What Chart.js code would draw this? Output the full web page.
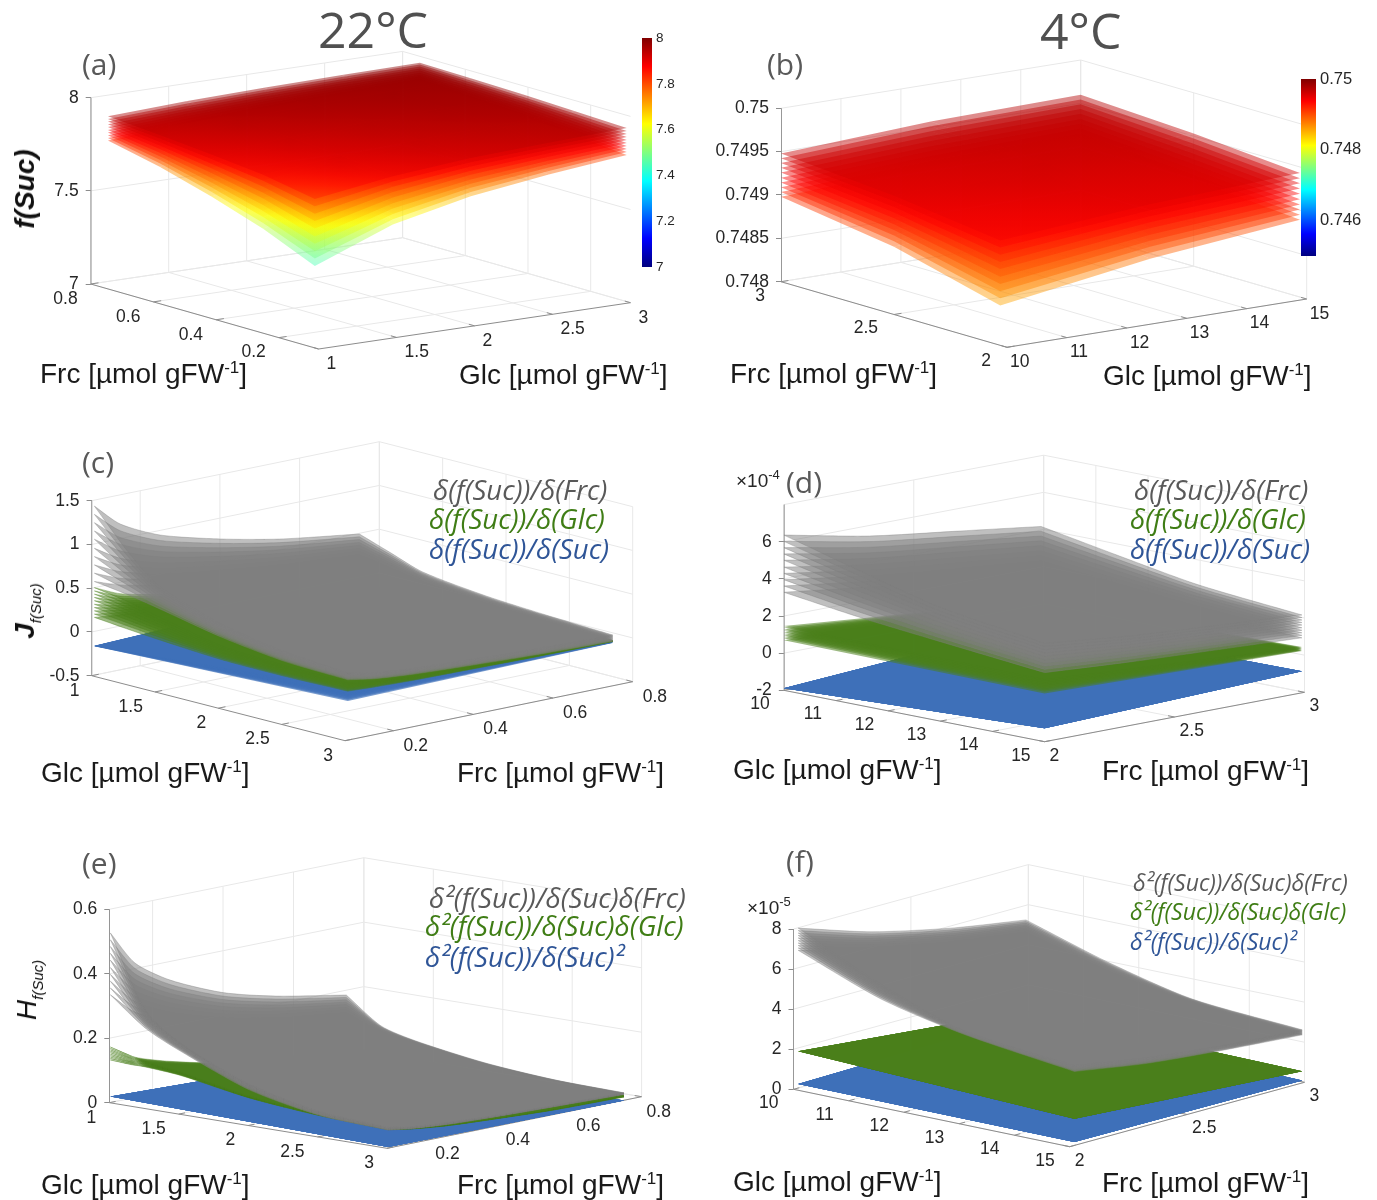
<!DOCTYPE html>
<html>
<head>
<meta charset="utf-8">
<title>f(Suc), Jacobian and Hessian surfaces at 22°C and 4°C</title>
<script src="https://cdn.jsdelivr.net/npm/chart.js@4"></script>
<style>
  body { margin: 0; background: #fff; }
  #page { position: relative; width: 1377px; height: 1200px; overflow: hidden; }
  canvas { position: absolute; }
  .t { position: absolute; white-space: nowrap; line-height: 1; transform: translateY(-50%); }
  .head { font-family: "Open Sans"; color: #505050; }
  .axis { font-family: "Liberation Sans"; font-size: 28px; color: #1a1a1a; }
  .axis sup { font-size: 17px; line-height: 0; }
  .leg { font-family: "Open Sans"; font-style: italic; }
  .ylab { font-family: "Liberation Sans"; font-style: italic; color: #111; transform: translate(-50%,-50%) rotate(-90deg); }
  .ylab sub { font-size: 15px; line-height: 0; font-weight: normal; }
  .exp { font-family: "Liberation Sans"; font-size: 19px; color: #262626; }
  .exp sup { font-size: 13px; line-height: 0; }
</style>
</head>
<body>
<div id="page"></div>
<script>
// sheets of the Suc family: where each one sits between the lowest and highest sheet
const sucLevels = [0, 0.11, 0.22, 0.33, 0.44, 0.56, 0.67, 0.78, 0.89, 1];
const jetColors = [[0, 0, 127], [0, 0, 255], [0, 255, 255], [255, 255, 0], [255, 0, 0], [127, 0, 0]];
const jetStops = [0, 0.125, 0.375, 0.625, 0.875, 1];
// the shaded surfaces in the figure reach the dark reds earlier than the colorbar does
const surfaceStops = [0, 0.125, 0.375, 0.625, 0.83, 0.98];

// (a) 22°C f(Suc)
const aFrc = [0.745, 0.58, 0.415, 0.25, 0.085];
const aGlc = [1, 1.5, 2, 2.5, 3];
const aLow = [
  [7.796, 7.825, 7.845, 7.860, 7.870],
  [7.735, 7.785, 7.815, 7.840, 7.855],
  [7.655, 7.735, 7.780, 7.815, 7.840],
  [7.560, 7.675, 7.740, 7.785, 7.815],
  [7.440, 7.600, 7.690, 7.745, 7.787]];
const aTop = [
  [7.927, 7.945, 7.955, 7.962, 7.966],
  [7.905, 7.930, 7.945, 7.955, 7.960],
  [7.880, 7.910, 7.930, 7.945, 7.953],
  [7.850, 7.890, 7.915, 7.930, 7.943],
  [7.800, 7.860, 7.895, 7.915, 7.932]];

// (b) 4°C f(Suc)
const bFrc = [3, 2.5, 2.03];
const bGlc = [10, 12.5, 15];
const bLow = [
  [0.74898, 0.74906, 0.74910],
  [0.74878, 0.74892, 0.74900],
  [0.74846, 0.74872, 0.74889]];
const bTop = [
  [0.74948, 0.74957, 0.74960],
  [0.74937, 0.74948, 0.74953],
  [0.74921, 0.74935, 0.74943]];

// (c) 22°C Jacobian
const cGlc = [1, 1.25, 1.5, 2, 2.5, 3];
const cFrc = [0.085, 0.15, 0.25, 0.4, 0.55, 0.75];
const cGrayTop = [
  [1.432, 1.166, 0.947, 0.762, 0.621, 0.492],
  [1.03, 0.84, 0.68, 0.55, 0.45, 0.367],
  [0.72, 0.58, 0.475, 0.38, 0.31, 0.243],
  [0.46, 0.37, 0.30, 0.245, 0.20, 0.155],
  [0.33, 0.27, 0.22, 0.175, 0.14, 0.111],
  [0.27, 0.21, 0.17, 0.135, 0.105, 0.08]];
const cGrayLow = [
  [0.57, 0.47, 0.38, 0.31, 0.25, 0.20],
  [0.52, 0.43, 0.34, 0.27, 0.21, 0.16],
  [0.453, 0.37, 0.29, 0.22, 0.16, 0.115],
  [0.307, 0.25, 0.19, 0.14, 0.09, 0.06],
  [0.215, 0.17, 0.13, 0.09, 0.05, 0.03],
  [0.19, 0.14, 0.10, 0.065, 0.035, 0.01]];
const cGreenTop = [
  [0.50, 0.37, 0.27, 0.19, 0.14, 0.10],
  [0.44, 0.33, 0.24, 0.165, 0.12, 0.085],
  [0.36, 0.27, 0.20, 0.135, 0.095, 0.065],
  [0.21, 0.165, 0.12, 0.08, 0.055, 0.04],
  [0.17, 0.125, 0.09, 0.06, 0.035, 0.025],
  [0.16, 0.115, 0.08, 0.05, 0.03, 0.017]];
const cGreenLow = [
  [0.16, 0.13, 0.10, 0.08, 0.06, 0.04],
  [0.125, 0.10, 0.08, 0.06, 0.045, 0.03],
  [0.095, 0.08, 0.06, 0.045, 0.03, 0.02],
  [0.05, 0.045, 0.035, 0.025, 0.015, 0.01],
  [0.045, 0.04, 0.03, 0.02, 0.012, 0.006],
  [0.06, 0.045, 0.03, 0.02, 0.01, 0.005]];
const cBlueGlc = [1, 3];
const cBlueFrc = [0.085, 0.75];
const cBlueTop = [[-0.165, -0.06], [0.085, 0.0]];
const cBlueLow = [[-0.169, -0.068], [-0.054, -0.01]];

// (d) 4°C Jacobian, in units of 1e-4
const dGlc = [10, 11.5, 13, 15];
const dFrc = [2, 2.33, 2.67, 2.99];
const dGrayTop = [
  [6.36, 5.43, 4.79, 4.19],
  [5.20, 4.45, 3.92, 3.43],
  [4.13, 3.53, 3.11, 2.72],
  [3.30, 2.82, 2.49, 2.19]];
const dGrayLow = [
  [3.28, 2.70, 2.25, 1.85],
  [2.72, 2.24, 1.87, 1.53],
  [2.28, 1.88, 1.56, 1.28],
  [1.72, 1.42, 1.18, 0.96]];
const dFlatGlc = [10, 15];
const dFlatFrc = [2, 2.99];
const dGreenTop = [[1.46, 0.2], [1.36, 0.46]];
const dGreenLow = [[0.7, 0.0], [0.6, 0.25]];
const dBlue = [[-1.89, -0.97], [-1.28, -0.84]];

// (e) 22°C Hessian
const eGlc = [1, 1.25, 1.5, 2, 2.5, 3];
const eFrc = [0.08, 0.15, 0.25, 0.4, 0.55, 0.75];
const eGrayTop = [
  [0.526, 0.417, 0.342, 0.270, 0.226, 0.185],
  [0.305, 0.242, 0.198, 0.157, 0.131, 0.107],
  [0.221, 0.175, 0.144, 0.113, 0.095, 0.078],
  [0.128, 0.101, 0.083, 0.066, 0.055, 0.045],
  [0.079, 0.063, 0.052, 0.041, 0.034, 0.028],
  [0.064, 0.051, 0.042, 0.033, 0.028, 0.023]];
const eGrayLow = [
  [0.334, 0.265, 0.217, 0.172, 0.143, 0.118],
  [0.249, 0.197, 0.162, 0.128, 0.107, 0.088],
  [0.196, 0.156, 0.127, 0.101, 0.084, 0.069],
  [0.110, 0.087, 0.071, 0.057, 0.047, 0.039],
  [0.067, 0.053, 0.043, 0.034, 0.029, 0.024],
  [0.056, 0.045, 0.036, 0.029, 0.024, 0.018]];
const eGreenTop = [
  [0.172, 0.125, 0.09, 0.052, 0.035, 0.025],
  [0.145, 0.11, 0.08, 0.048, 0.032, 0.024],
  [0.13, 0.10, 0.072, 0.044, 0.03, 0.022],
  [0.09, 0.07, 0.05, 0.034, 0.024, 0.019],
  [0.072, 0.055, 0.04, 0.028, 0.02, 0.016],
  [0.062, 0.048, 0.035, 0.025, 0.018, 0.015]];
const eGreenLow = [
  [0.132, 0.10, 0.07, 0.042, 0.028, 0.02],
  [0.128, 0.097, 0.068, 0.04, 0.027, 0.019],
  [0.12, 0.09, 0.063, 0.038, 0.025, 0.018],
  [0.085, 0.065, 0.046, 0.03, 0.02, 0.015],
  [0.066, 0.05, 0.036, 0.025, 0.016, 0.012],
  [0.057, 0.044, 0.032, 0.022, 0.014, 0.01]];
const eBlueGlc = [1, 3];
const eBlueFrc = [0.08, 0.75];
const eBlue = [[0.0186, -0.004], [0.003, -0.001]];

// (f) 4°C Hessian, in units of 1e-5
const fGlc = [10, 11.5, 13, 15];
const fFrc = [2.02, 2.33, 2.67, 2.99];
const fGrayTop = [
  [7.98, 6.80, 5.89, 5.27],
  [6.05, 5.17, 4.48, 4.00],
  [4.60, 3.95, 3.42, 3.05],
  [4.00, 3.40, 2.95, 2.65]];
const fGrayLow = [
  [6.87, 5.85, 5.07, 4.55],
  [5.30, 4.50, 3.90, 3.50],
  [4.40, 3.70, 3.20, 2.85],
  [3.69, 3.10, 2.70, 2.40]];
const fFlatGlc = [10, 15];
const fFlatFrc = [2.02, 2.99];
const fGreen = [[1.83, 0.75], [1.33, 0.58]];
const fBlue = [[0.2, 0.4], [0.17, 0.12]];

// axis ticks
const aZTicks = [7, 7.5, 8], aZLabels = ["7", "7.5", "8"];
const aFrcTicks = [0.8, 0.6, 0.4, 0.2], aFrcLabels = ["0.8", "0.6", "0.4", "0.2"];
const aGlcTicks = [1, 1.5, 2, 2.5, 3], aGlcLabels = ["1", "1.5", "2", "2.5", "3"];
const bZTicks = [0.748, 0.7485, 0.749, 0.7495, 0.75], bZLabels = ["0.748", "0.7485", "0.749", "0.7495", "0.75"];
const bFrcTicks = [3, 2.5, 2], bFrcLabels = ["3", "2.5", "2"];
const bGlcTicks = [10, 11, 12, 13, 14, 15], bGlcLabels = ["10", "11", "12", "13", "14", "15"];
const cZTicks = [-0.5, 0, 0.5, 1, 1.5], cZLabels = ["-0.5", "0", "0.5", "1", "1.5"];
const dZTicks = [-2, 0, 2, 4, 6], dZLabels = ["-2", "0", "2", "4", "6"];
const eZTicks = [0, 0.2, 0.4, 0.6], eZLabels = ["0", "0.2", "0.4", "0.6"];
const fZTicks = [0, 2, 4, 6, 8], fZLabels = ["0", "2", "4", "6", "8"];
const lowGlcTicks = [1, 1.5, 2, 2.5, 3], lowGlcLabels = ["1", "1.5", "2", "2.5", "3"];
const lowFrcTicks = [0.2, 0.4, 0.6, 0.8], lowFrcLabels = ["0.2", "0.4", "0.6", "0.8"];
const aBarTicks = [7, 7.2, 7.4, 7.6, 7.8, 8], aBarLabels = ["7", "7.2", "7.4", "7.6", "7.8", "8"];
const bBarTicks = [0.746, 0.748, 0.75], bBarLabels = ["0.746", "0.748", "0.75"];

const GRAY = "127,127,127", GREEN = "74,127,28", BLUE = "62,112,185";

const page = document.getElementById("page");

function jet(frac) {
  const f = Math.min(1, Math.max(0, frac));
  let i = 0;
  while (i < surfaceStops.length - 2 && f > surfaceStops[i + 1]) i++;
  const w = Math.min(1, (f - surfaceStops[i]) / (surfaceStops[i + 1] - surfaceStops[i]));
  return jetColors[i].map((c, k) => Math.round(c + (jetColors[i + 1][k] - c) * w));
}

function addText(html, cls, left, top, style) {
  const el = document.createElement("div");
  el.className = "t " + cls;
  el.innerHTML = html;
  el.style.left = left + "px";
  el.style.top = top + "px";
  Object.assign(el.style, style || {});
  page.appendChild(el);
}

// floor axes run left corner -> front corner (u) and front corner -> right corner (v)
function projector(p) {
  const b = p.box;
  const ppu = (b.Ly - b.topY) / (p.zRange[1] - p.zRange[0]);
  return function (u, v, z) {
    const t = (u - p.uRange[0]) / (p.uRange[1] - p.uRange[0]);
    const s = (v - p.vRange[0]) / (p.vRange[1] - p.vRange[0]);
    return {
      x: t * (b.Fx - b.Lx) + s * (b.Rx - b.Fx),
      y: z - (t * (b.Fy - b.Ly) + s * (b.Ry - b.Fy)) / ppu
    };
  };
}

function lineSet(points, color, width) {
  return { data: points, showLine: true, borderColor: color, borderWidth: width, pointRadius: 0, fill: false };
}

function wallSets(p, P) {
  const [uL, uF] = p.uRange, [vF, vR] = p.vRange, z0 = p.zRange[0], z1 = p.zRange[1];
  const out = [];
  const grid = "#e8e8e8";
  p.zGrid.forEach(z => out.push(lineSet([P(uL, vF, z), P(uL, vR, z), P(uF, vR, z)], grid, 1)));
  p.uTicks.forEach(u => {
    out.push(lineSet([P(u, vF, z0), P(u, vR, z0), P(u, vR, z1)], grid, 1));
  });
  p.vTicks.forEach(v => {
    out.push(lineSet([P(uF, v, z0), P(uL, v, z0), P(uL, v, z1)], grid, 1));
  });
  return out;
}

function axisSets(p, P) {
  const [uL, uF] = p.uRange, [vF, vR] = p.vRange, z0 = p.zRange[0], z1 = p.zRange[1];
  const ink = "#8c8c8c";
  const out = [lineSet([P(uL, vF, z1), P(uL, vF, z0), P(uF, vF, z0), P(uF, vR, z0)], ink, 1)];
  p.uTicks.forEach(u => out.push(lineSet([P(u, vF, z0), P(u, vF + (vR - vF) * 0.025, z0)], ink, 1)));
  p.vTicks.forEach(v => out.push(lineSet([P(uF, v, z0), P(uF + (uL - uF) * 0.025, v, z0)], ink, 1)));
  return out;
}

// one polygon per sheet, uniform colour; corners are pushed twice so the spline stays sharp there
function sheetSets(s, P) {
  const out = [];
  const curved = s.rows.length > 2;
  sucLevels.forEach(level => {
    const val = (i, j) => s.low[i][j] + level * (s.top[i][j] - s.low[i][j]);
    const n = s.rows.length, m = s.cols.length, loop = [];
    const add = (i, j) => loop.push(P(s.rows[i], s.cols[j], val(i, j)));
    for (let j = 0; j < m; j++) add(0, j);
    add(0, m - 1);
    for (let i = 1; i < n; i++) add(i, m - 1);
    add(n - 1, m - 1);
    for (let j = m - 2; j >= 0; j--) add(n - 1, j);
    add(n - 1, 0);
    for (let i = n - 2; i >= 0; i--) add(i, 0);
    out.push({
      data: loop, showLine: true, pointRadius: 0, fill: "shape", tension: curved ? 0.25 : 0,
      borderWidth: curved ? 0.6 : 0, borderColor: "rgba(" + s.rgb + ",0.6)",
      backgroundColor: "rgba(" + s.rgb + "," + s.alpha + ")"
    });
  });
  return out;
}

// linear fit of value against pixel position over a cell, so the shading runs on across cell borders
function cellGradient(c2d, corners, css) {
  const n = corners.length;
  const mx = corners.reduce((a, c) => a + c.px, 0) / n;
  const my = corners.reduce((a, c) => a + c.py, 0) / n;
  const mv = corners.reduce((a, c) => a + c.z, 0) / n;
  let sxx = 0, sxy = 0, syy = 0, sxv = 0, syv = 0;
  corners.forEach(c => {
    const dx = c.px - mx, dy = c.py - my, dv = c.z - mv;
    sxx += dx * dx; sxy += dx * dy; syy += dy * dy; sxv += dx * dv; syv += dy * dv;
  });
  const det = sxx * syy - sxy * sxy;
  const gx = (sxv * syy - syv * sxy) / det, gy = (syv * sxx - sxv * sxy) / det;
  const g2 = gx * gx + gy * gy;
  const vs = corners.map(c => mv + gx * (c.px - mx) + gy * (c.py - my));
  const v0 = Math.min.apply(null, vs), v1 = Math.max.apply(null, vs);
  const at = v => [mx + gx * (v - mv) / g2, my + gy * (v - mv) / g2];
  const a = at(v0), b = at(v1);
  const g = c2d.createLinearGradient(a[0], a[1], b[0], b[1]);
  [0, 0.17, 0.33, 0.5, 0.67, 0.83, 1].forEach(k => g.addColorStop(k, css(v0 + (v1 - v0) * k)));
  return g;
}

// one polygon per grid cell, filled with the colormap across its value range
function cellSets(s, P) {
  const out = [];
  const [cMin, cMax] = s.cRange;
  const css = v => "rgba(" + jet((v - cMin) / (cMax - cMin)).join(",") + "," + s.alpha + ")";
  sucLevels.forEach(level => {
    const val = (i, j) => s.low[i][j] + level * (s.top[i][j] - s.low[i][j]);
    for (let i = 0; i < s.rows.length - 1; i++) {
      for (let j = 0; j < s.cols.length - 1; j++) {
        const corners = [[i, j], [i, j + 1], [i + 1, j + 1], [i + 1, j]].map(c => {
          const z = val(c[0], c[1]);
          return { z: z, pt: P(s.rows[c[0]], s.cols[c[1]], z) };
        });
        out.push({
          data: corners.map(c => c.pt), showLine: true, pointRadius: 0, borderWidth: 0, fill: "shape",
          backgroundColor: ctx => {
            const ch = ctx.chart, sx = ch.scales.x, sy = ch.scales.y;
            const mid = css(corners[0].z);
            if (!sx || !sy) return mid;
            const placed = corners.map(c => ({ z: c.z, px: sx.getPixelForValue(c.pt.x), py: sy.getPixelForValue(c.pt.y) }));
            if (!placed.every(c => Number.isFinite(c.px) && Number.isFinite(c.py))) return mid;
            return cellGradient(ch.ctx, placed, css);
          }
        });
      }
    }
  });
  return out;
}

function drawPanel(p) {
  const b = p.box, P = projector(p);
  const ppu = (b.Ly - b.topY) / (p.zRange[1] - p.zRange[0]);
  const canvas = document.createElement("canvas");
  canvas.width = b.w; canvas.height = b.h;
  canvas.style.left = b.left + "px"; canvas.style.top = b.top + "px";
  page.appendChild(canvas);

  let sets = wallSets(p, P).concat(axisSets(p, P));
  p.surfaces.forEach(s => { sets = sets.concat(s.cRange ? cellSets(s, P) : sheetSets(s, P)); });
  // Chart.js paints the first dataset last
  sets.reverse();

  const floorLabels = {
    id: "floorLabels",
    afterDraw(chart) {
      const c = chart.ctx, sx = chart.scales.x, sy = chart.scales.y;
      c.save();
      c.font = '17.5px "Liberation Sans"';
      c.fillStyle = "#262626";
      c.textBaseline = "middle";
      const put = (label, pt, off, align) => {
        c.textAlign = align;
        c.fillText(label, sx.getPixelForValue(pt.x) + off[0], sy.getPixelForValue(pt.y) + off[1]);
      };
      p.uTicks.forEach((u, i) => put(p.uLabels[i], P(u, p.vRange[0], p.zRange[0]), p.uOff, "right"));
      p.vTicks.forEach((v, i) => put(p.vLabels[i], P(p.uRange[1], v, p.zRange[0]), p.vOff, "left"));
      c.restore();
    }
  };

  new Chart(canvas, {
    type: "scatter",
    data: { datasets: sets },
    plugins: [floorLabels],
    options: {
      responsive: false,
      animation: false,
      events: [],
      plugins: { legend: { display: false }, tooltip: { enabled: false } },
      scales: {
        x: { type: "linear", display: false, min: 0, max: b.left + b.w - b.Lx },
        y: {
          type: "linear",
          min: p.zRange[0] - (b.top + b.h - b.Ly) / ppu,
          max: p.zRange[0] + (b.Ly - b.top) / ppu,
          afterBuildTicks: s => { s.ticks = p.zTicks.map(v => ({ value: v })); },
          afterFit: s => { s.width = b.Lx - b.left; s.paddingTop = 0; s.paddingBottom = 0; },
          grid: { drawOnChartArea: false, tickLength: 5, color: "#8c8c8c" },
          border: { display: false },
          ticks: {
            autoSkip: false, padding: 7, color: "#262626",
            font: { family: "Liberation Sans", size: 17.5 },
            callback: (v, i) => p.zLabels[i]
          }
        }
      }
    }
  });
}

function drawColorbar(o) {
  const canvas = document.createElement("canvas");
  const pad = 12;
  canvas.width = o.w + 60; canvas.height = o.h + pad * 2;
  canvas.style.left = o.left + "px"; canvas.style.top = (o.top - pad) + "px";
  page.appendChild(canvas);
  new Chart(canvas, {
    type: "bar",
    data: {
      labels: [""],
      datasets: [{
        data: [o.range],
        barPercentage: 1, categoryPercentage: 1,
        backgroundColor: ctx => {
          const a = ctx.chart.chartArea;
          if (!a) return "#800000";
          const g = ctx.chart.ctx.createLinearGradient(0, a.bottom, 0, a.top);
          jetStops.forEach((st, i) => g.addColorStop(st, "rgb(" + jetColors[i].join(",") + ")"));
          return g;
        }
      }]
    },
    options: {
      responsive: false,
      animation: false,
      events: [],
      layout: { padding: { top: pad, bottom: pad } },
      plugins: { legend: { display: false }, tooltip: { enabled: false } },
      scales: {
        x: { display: false },
        y: {
          position: "right",
          min: o.range[0], max: o.range[1],
          afterBuildTicks: s => { s.ticks = o.ticks.map(v => ({ value: v })); },
          afterFit: s => { s.width = 60; s.paddingTop = 0; s.paddingBottom = 0; },
          grid: { display: false, drawTicks: false },
          border: { display: false },
          ticks: {
            autoSkip: false, padding: 4, color: "#262626",
            font: { family: "Liberation Sans", size: o.font },
            callback: (v, i) => o.labels[i]
          }
        }
      }
    }
  });
}

const panels = [
  {
    box: { left: 0, top: 0, w: 690, h: 400, Lx: 90.7, Ly: 284, Fx: 318.6, Fy: 349, Rx: 630.5, Ry: 302.7, topY: 97.7 },
    uRange: [0.8, 0.073], vRange: [1, 3], zRange: [7, 8],
    zTicks: aZTicks, zLabels: aZLabels, zGrid: aZTicks,
    uTicks: aFrcTicks, uLabels: aFrcLabels, vTicks: aGlcTicks, vLabels: aGlcLabels,
    uOff: [-13, 15], vOff: [8, 15],
    surfaces: [{ rows: aFrc, cols: aGlc, low: aLow, top: aTop, cRange: [7, 8], alpha: 0.45 }]
  },
  {
    box: { left: 690, top: 0, w: 687, h: 400, Lx: 781, Ly: 281.7, Fx: 1007, Fy: 347.3, Rx: 1306.7, Ry: 299, topY: 108.3 },
    uRange: [3, 2], vRange: [10, 15], zRange: [0.748, 0.75],
    zTicks: bZTicks, zLabels: bZLabels, zGrid: bZTicks,
    uTicks: bFrcTicks, uLabels: bFrcLabels, vTicks: bGlcTicks, vLabels: bGlcLabels,
    uOff: [-16, 14], vOff: [3, 15],
    surfaces: [{ rows: bFrc, cols: bGlc, low: bLow, top: bTop, cRange: [0.745, 0.75], alpha: 0.45 }]
  },
  {
    box: { left: 0, top: 430, w: 690, h: 370, Lx: 91.6, Ly: 675.7, Fx: 345, Fy: 740.7, Rx: 632.7, Ry: 681.7, topY: 500.7 },
    uRange: [1, 3], vRange: [0.078, 0.8], zRange: [-0.5, 1.5],
    zTicks: cZTicks, zLabels: cZLabels, zGrid: cZTicks,
    uTicks: lowGlcTicks, uLabels: lowGlcLabels, vTicks: lowFrcTicks, vLabels: lowFrcLabels,
    uOff: [-12, 15], vOff: [10, 15],
    surfaces: [
      { rows: cBlueGlc, cols: cBlueFrc, low: cBlueLow, top: cBlueTop, rgb: BLUE, alpha: 0.7 },
      { rows: cGlc, cols: cFrc, low: cGreenLow, top: cGreenTop, rgb: GREEN, alpha: 0.55 },
      { rows: cGlc, cols: cFrc, low: cGrayLow, top: cGrayTop, rgb: GRAY, alpha: 0.5 }
    ]
  },
  {
    box: { left: 690, top: 430, w: 687, h: 370, Lx: 783.8, Ly: 690.3, Fx: 1044.6, Fy: 741.7, Rx: 1304.5, Ry: 692.3, topY: 504.6 },
    uRange: [10, 15], vRange: [2, 3], zRange: [-2, 8],
    zTicks: dZTicks, zLabels: dZLabels, zGrid: dZTicks.concat([8]),
    uTicks: bGlcTicks, uLabels: bGlcLabels, vTicks: bFrcTicks.slice().reverse(), vLabels: bFrcLabels.slice().reverse(),
    uOff: [-14, 14], vOff: [5, 14],
    surfaces: [
      { rows: dFlatGlc, cols: dFlatFrc, low: dBlue, top: dBlue, rgb: BLUE, alpha: 0.7 },
      { rows: dFlatGlc, cols: dFlatFrc, low: dGreenLow, top: dGreenTop, rgb: GREEN, alpha: 0.55 },
      { rows: dGlc, cols: dFrc, low: dGrayLow, top: dGrayTop, rgb: GRAY, alpha: 0.5 }
    ]
  },
  {
    box: { left: 0, top: 830, w: 690, h: 370, Lx: 109.3, Ly: 1102.7, Fx: 387, Fy: 1148.3, Rx: 641.6, Ry: 1096.7, topY: 909.3 },
    uRange: [1, 3], vRange: [0.077, 0.8], zRange: [0, 0.6],
    zTicks: eZTicks, zLabels: eZLabels, zGrid: eZTicks,
    uTicks: lowGlcTicks, uLabels: lowGlcLabels, vTicks: lowFrcTicks, vLabels: lowFrcLabels,
    uOff: [-13, 15], vOff: [5, 15],
    surfaces: [
      { rows: eBlueGlc, cols: eBlueFrc, low: eBlue, top: eBlue, rgb: BLUE, alpha: 0.7 },
      { rows: eGlc, cols: eFrc, low: eGreenLow, top: eGreenTop, rgb: GREEN, alpha: 0.7 },
      { rows: eGlc, cols: eFrc, low: eGrayLow, top: eGrayTop, rgb: GRAY, alpha: 0.5 }
    ]
  },
  {
    box: { left: 690, top: 830, w: 687, h: 370, Lx: 793.5, Ly: 1089.3, Fx: 1069.7, Fy: 1146.7, Rx: 1304.5, Ry: 1082.3, topY: 929 },
    uRange: [10, 15], vRange: [2, 3], zRange: [0, 8],
    zTicks: fZTicks, zLabels: fZLabels, zGrid: fZTicks,
    uTicks: bGlcTicks, uLabels: bGlcLabels, vTicks: bFrcTicks.slice().reverse(), vLabels: bFrcLabels.slice().reverse(),
    uOff: [-15, 14], vOff: [5, 14],
    surfaces: [
      { rows: fFlatGlc, cols: fFlatFrc, low: fBlue, top: fBlue, rgb: BLUE, alpha: 0.7 },
      { rows: fFlatGlc, cols: fFlatFrc, low: fGreen, top: fGreen, rgb: GREEN, alpha: 0.55 },
      { rows: fGlc, cols: fFrc, low: fGrayLow, top: fGrayTop, rgb: GRAY, alpha: 0.5 }
    ]
  }
];

panels.forEach(drawPanel);
drawColorbar({ left: 642, top: 38, w: 10, h: 229, range: [7, 8], ticks: aBarTicks, labels: aBarLabels, font: 13.5 });
drawColorbar({ left: 1301, top: 79, w: 15, h: 177, range: [0.745, 0.75], ticks: bBarTicks, labels: bBarLabels, font: 16.5 });

// headings and panel letters
addText("22°C", "head", 318, 29, { fontSize: "50px" });
addText("4°C", "head", 1040, 30, { fontSize: "50px" });
[["(a)", 82, 64], ["(b)", 767, 64], ["(c)", 82, 462], ["(d)", 786, 482], ["(e)", 82, 863], ["(f)", 786, 861]]
  .forEach(l => addText(l[0], "head", l[1], l[2], { fontSize: "30px", color: "#595959" }));

// axis titles
const frcTitle = "Frc [µmol gFW<sup>-1</sup>]", glcTitle = "Glc [µmol gFW<sup>-1</sup>]";
[[frcTitle, 40, 374], [glcTitle, 459, 375], [frcTitle, 730, 374], [glcTitle, 1103, 376],
 [glcTitle, 41, 773], [frcTitle, 457, 773], [glcTitle, 733, 770], [frcTitle, 1102, 771],
 [glcTitle, 41, 1185], [frcTitle, 457, 1185], [glcTitle, 733, 1182], [frcTitle, 1102, 1183]]
  .forEach(l => addText(l[0], "axis", l[1], l[2]));

addText("f(Suc)", "ylab", 25, 189, { fontSize: "28px", fontWeight: "bold" });
addText("J<sub>f(Suc)</sub>", "ylab", 25, 611, { fontSize: "28px", fontWeight: "bold" });
addText("H<sub>f(Suc)</sub>", "ylab", 27, 990, { fontSize: "28px" });
addText("×10<sup>-4</sup>", "exp", 736, 480);
addText("×10<sup>-5</sup>", "exp", 747, 907);

// legends
const jGray = "δ(f(Suc))/δ(Frc)", jGreen = "δ(f(Suc))/δ(Glc)", jBlue = "δ(f(Suc))/δ(Suc)";
const hGray = "δ²(f(Suc))/δ(Suc)δ(Frc)", hGreen = "δ²(f(Suc))/δ(Suc)δ(Glc)", hBlue = "δ²(f(Suc))/δ(Suc)²";
[[jGray, 433, 490, 27.5, "#595959"], [jGreen, 429, 519, 27.5, "#3f7d15"], [jBlue, 429, 549, 27.5, "#2f5597"],
 [jGray, 1134, 490, 27.5, "#595959"], [jGreen, 1130, 519, 27.5, "#3f7d15"], [jBlue, 1130, 549, 27.5, "#2f5597"],
 [hGray, 429, 898, 27.5, "#595959"], [hGreen, 425, 926, 27.5, "#3f7d15"], [hBlue, 425, 957, 27.5, "#2f5597"],
 [hGray, 1133, 882, 23, "#595959"], [hGreen, 1130, 911, 23, "#3f7d15"], [hBlue, 1130, 941, 23, "#2f5597"]]
  .forEach(l => addText(l[0], "leg", l[1], l[2], { fontSize: l[3] + "px", color: l[4] }));
</script>
</body>
</html>
